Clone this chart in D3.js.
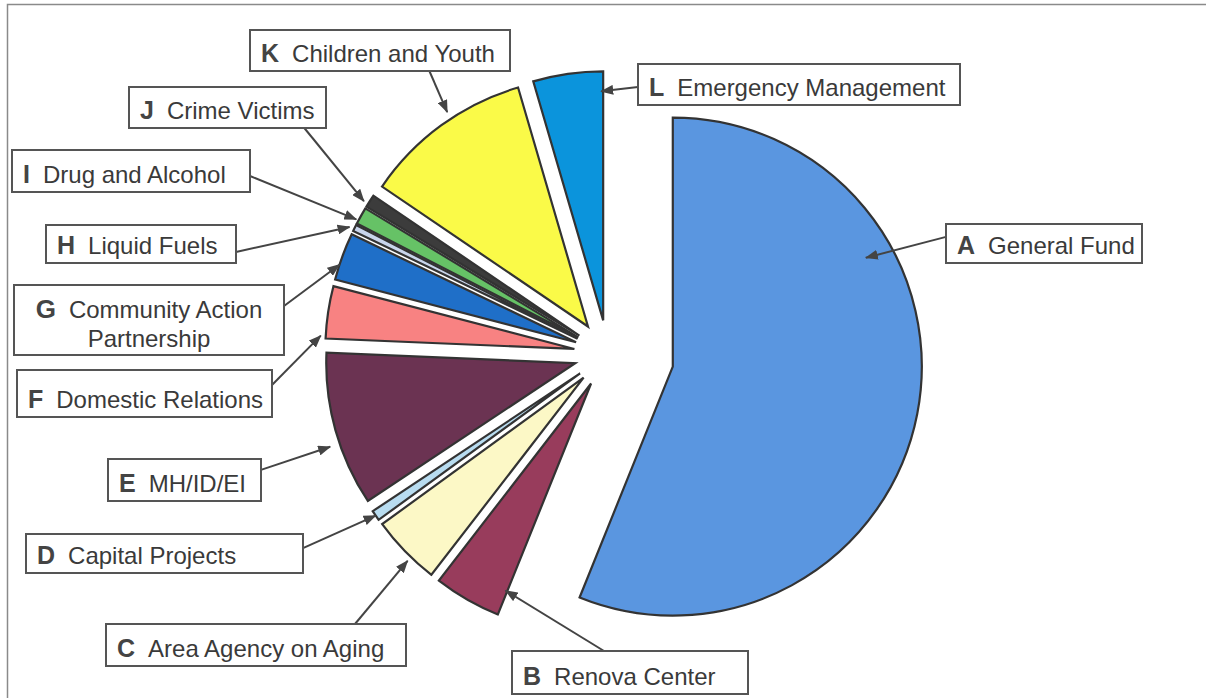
<!DOCTYPE html>
<html>
<head>
<meta charset="utf-8">
<script src="https://cdn.jsdelivr.net/npm/d3@7"></script>
<style>
	body { margin: 0; background: #fff; }
	svg { display: block; }
</style>
</head>
<body>
<div id="viz"></div>
<script>
// slices, clockwise from 12 o'clock
const LETTERS = ['A', 'B', 'C', 'D', 'E', 'F', 'G', 'H', 'I', 'J', 'K', 'L']
const CATEGORIES = [
	'General Fund',
	'Renova Center',
	'Area Agency on Aging',
	'Capital Projects',
	'MH/ID/EI',
	'Domestic Relations',
	'Community Action Partnership',
	'Liquid Fuels',
	'Drug and Alcohol',
	'Crime Victims',
	'Children and Youth',
	'Emergency Management',
]
// share of total, percent
const SHARES = [56.1, 4.36, 4.53, 0.67, 10.0, 3.39, 3.08, 0.42, 1.11, 0.83, 10.97, 4.53]

const COLORS = [
	'#5a96e0', '#983c5c', '#fcf8c6', '#b8dcf0', '#6b3352', '#f88282',
	'#1f6fc8', '#c9d5ec', '#66c266', '#3c3c3c', '#fafa48', '#0b94dc',
]

// callout layout: box [x, y, w, h], arrow start on box [fx, fy],
// arrow tip inside slice [fraction of angle, fraction of radius]
const BOXES = [
	[946, 224, 196, 39], [512, 651, 236, 43], [106, 624, 300, 42],
	[26, 534, 277, 39], [108, 459, 153, 42], [17, 370, 255, 47],
	[14, 285, 270, 70], [46, 225, 190, 38], [12, 150, 238, 42],
	[129, 87, 197, 41], [250, 30, 260, 41], [638, 64, 322, 41],
]
const ARROW_FROM = [
	[0, 0.33], [0.39, 0], [0.83, 0], [1, 0.36], [1, 0.26], [1, 0.32],
	[1, 0.3], [1, 0.71], [1, 0.62], [0.89, 1], [0.69, 1], [0, 0.56],
]
const ARROW_TIP = [
	[0.3, 0.89], [0.03, 0.9], [0.38, 1.02], [0.5, 1.0], [0.41, 1.04], [0.05, 1.02],
	[0.32, 1.0], [0.3, 1.02], [0.2, 1.01], [0.25, 1.02], [0.57, 1.03], [0.97, 0.92],
]

const WIDTH = 1206
const HEIGHT = 698
const CX = 608
const CY = 354
const RADIUS = 249
const EXPLODE = (i) => (i === 0 ? 66 : 34)
const FONT = "'Liberation Sans', Arial, sans-serif"

const svg = d3
	.select('#viz')
	.append('svg')
	.attr('width', WIDTH)
	.attr('height', HEIGHT)

svg.append('defs')
	.append('marker')
	.attr('id', 'arrow')
	.attr('markerUnits', 'userSpaceOnUse')
	.attr('markerWidth', 13)
	.attr('markerHeight', 10)
	.attr('refX', 12)
	.attr('refY', 5)
	.attr('orient', 'auto')
	.append('path')
	.attr('d', 'M0,0 L13,5 L0,10 Z')
	.attr('fill', '#444')

// frame (right and bottom edges fall outside the picture)
svg.append('path')
	.attr('d', `M7.5,${HEIGHT} V4.5 H${WIDTH}`)
	.attr('fill', 'none')
	.attr('stroke', '#8a8a8a')
	.attr('stroke-width', 1.5)

const slices = d3
	.pie()
	.sort(null)
	.value((d) => d)(SHARES)

const arc = d3.arc().innerRadius(0).outerRadius(RADIUS)

// vertex of each exploded slice
const vertex = (d, i) => {
	const mid = (d.startAngle + d.endAngle) / 2
	return [CX + EXPLODE(i) * Math.sin(mid), CY - EXPLODE(i) * Math.cos(mid)]
}

const pie_group = svg.append('g')

pie_group
	.selectAll('path')
	.data(slices)
	.enter()
	.append('path')
	.attr('transform', (d, i) => `translate(${vertex(d, i)})`)
	.attr('d', arc)
	.attr('fill', (d, i) => COLORS[i])
	.attr('stroke', '#333')
	.attr('stroke-width', 2.2)
	.attr('stroke-linejoin', 'miter')

// callouts
const callouts = svg.append('g')

slices.forEach((d, i) => {
	const [bx, by, bw, bh] = BOXES[i]
	const [fx, fy] = ARROW_FROM[i]
	const [t, k] = ARROW_TIP[i]
	const [vx, vy] = vertex(d, i)
	const a = d.startAngle + t * (d.endAngle - d.startAngle)
	const tip = [vx + k * RADIUS * Math.sin(a), vy - k * RADIUS * Math.cos(a)]

	callouts
		.append('line')
		.attr('x1', bx + fx * bw)
		.attr('y1', by + fy * bh)
		.attr('x2', tip[0])
		.attr('y2', tip[1])
		.attr('stroke', '#444')
		.attr('stroke-width', 2)
		.attr('marker-end', 'url(#arrow)')

	callouts
		.append('rect')
		.attr('x', bx)
		.attr('y', by)
		.attr('width', bw)
		.attr('height', bh)
		.attr('fill', '#fff')
		.attr('stroke', '#555')
		.attr('stroke-width', 2)

	const text = callouts
		.append('text')
		.attr('font-family', FONT)
		.attr('font-size', 24)
		.attr('fill', '#3a3a3a')

	if (i === 6) {
		// two-line label, centred
		const words = CATEGORIES[i].split(' ')
		text.attr('text-anchor', 'middle')
		const l1 = text.append('tspan').attr('x', bx + bw / 2).attr('y', by + bh - 37)
		l1.append('tspan').attr('font-weight', 'bold').attr('fill', '#444').attr('font-size', 26).text(LETTERS[i])
		l1.append('tspan').attr('dx', 13).text(words.slice(0, 2).join(' '))
		text.append('tspan').attr('x', bx + bw / 2).attr('y', by + bh - 8).text(words.slice(2).join(' '))
	} else {
		text.attr('x', bx + 11).attr('y', by + bh - 9)
		text.append('tspan').attr('font-weight', 'bold').attr('fill', '#444').attr('font-size', 25).text(LETTERS[i])
		text.append('tspan').attr('dx', 13).text(CATEGORIES[i])
	}
})
</script>
</body>
</html>
